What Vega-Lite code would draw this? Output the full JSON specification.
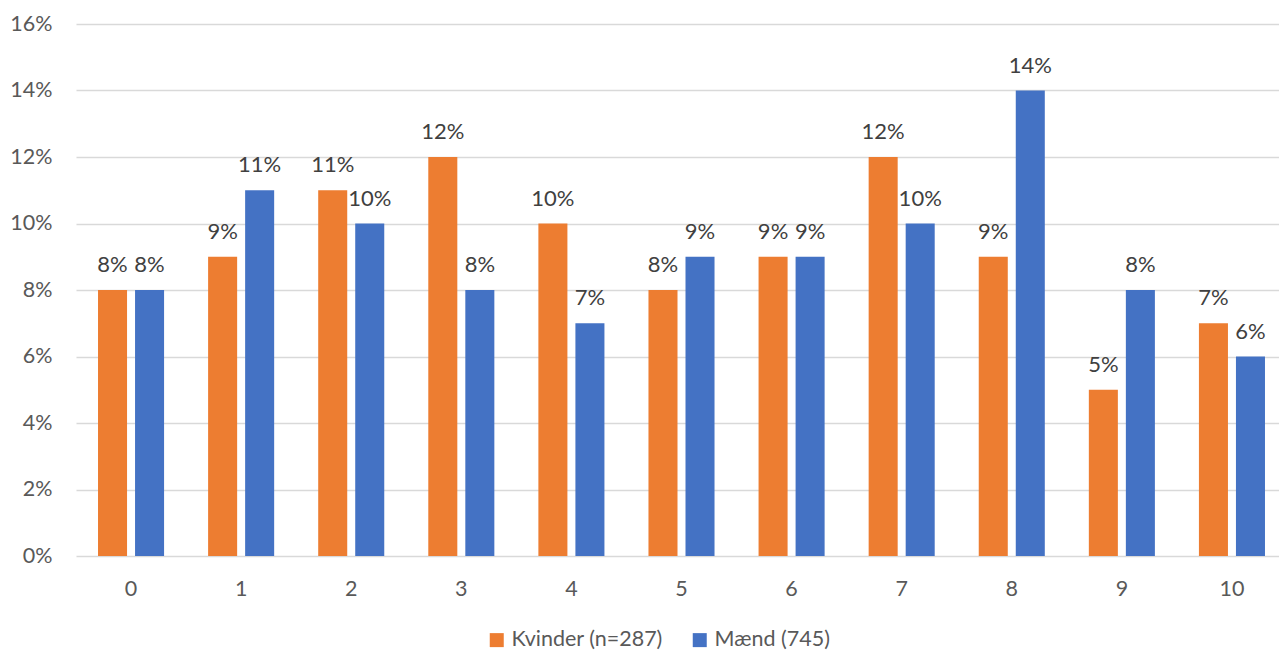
{
  "$schema": "https://vega.github.io/schema/vega-lite/v6.json",
  "autosize": {"type": "none"},
  "padding": {"left": 76, "top": 24, "right": 0, "bottom": 96},
  "width": 1203,
  "height": 532,
  "background": "white",
  "config": {
    "view": {"stroke": null},
    "font": "Lato",
    "axis": {"labelFont": "Lato", "labelFontSize": 21.5, "labelColor": "#595959", "gridColor": "#D9D9D9", "gridWidth": 1.5, "domain": false, "ticks": false, "title": null},
    "legend": {"labelFont": "Lato", "labelFontSize": 21.5, "labelColor": "#595959"}
  },
  "data": {
    "values": [
      {"cat": 0, "series": "Kvinder (n=287)", "value": 0.08},
      {"cat": 0, "series": "Mænd (745)", "value": 0.08},
      {"cat": 1, "series": "Kvinder (n=287)", "value": 0.09},
      {"cat": 1, "series": "Mænd (745)", "value": 0.11},
      {"cat": 2, "series": "Kvinder (n=287)", "value": 0.11},
      {"cat": 2, "series": "Mænd (745)", "value": 0.10},
      {"cat": 3, "series": "Kvinder (n=287)", "value": 0.12},
      {"cat": 3, "series": "Mænd (745)", "value": 0.08},
      {"cat": 4, "series": "Kvinder (n=287)", "value": 0.10},
      {"cat": 4, "series": "Mænd (745)", "value": 0.07},
      {"cat": 5, "series": "Kvinder (n=287)", "value": 0.08},
      {"cat": 5, "series": "Mænd (745)", "value": 0.09},
      {"cat": 6, "series": "Kvinder (n=287)", "value": 0.09},
      {"cat": 6, "series": "Mænd (745)", "value": 0.09},
      {"cat": 7, "series": "Kvinder (n=287)", "value": 0.12},
      {"cat": 7, "series": "Mænd (745)", "value": 0.10},
      {"cat": 8, "series": "Kvinder (n=287)", "value": 0.09},
      {"cat": 8, "series": "Mænd (745)", "value": 0.14},
      {"cat": 9, "series": "Kvinder (n=287)", "value": 0.05},
      {"cat": 9, "series": "Mænd (745)", "value": 0.08},
      {"cat": 10, "series": "Kvinder (n=287)", "value": 0.07},
      {"cat": 10, "series": "Mænd (745)", "value": 0.06}
    ]
  },
  "encoding": {
    "x": {
      "field": "cat", "type": "ordinal",
      "scale": {"range": [0, 1211], "paddingInner": 0.4, "paddingOuter": 0.2},
      "axis": {"labelAngle": 0, "labelBaseline": "alphabetic", "labelPadding": 39, "grid": false}
    },
    "xOffset": {
      "field": "series", "type": "nominal",
      "sort": ["Kvinder (n=287)", "Mænd (745)"],
      "scale": {"paddingInner": 0.216, "paddingOuter": 0}
    },
    "y": {
      "field": "value", "type": "quantitative",
      "scale": {"domain": [0, 0.16], "nice": false},
      "axis": {"format": ".0%", "values": [0, 0.02, 0.04, 0.06, 0.08, 0.1, 0.12, 0.14, 0.16], "labelPadding": 24}
    }
  },
  "layer": [
    {
      "mark": {"type": "bar"},
      "encoding": {
        "color": {
          "field": "series", "type": "nominal",
          "sort": ["Kvinder (n=287)", "Mænd (745)"],
          "scale": {"domain": ["Kvinder (n=287)", "Mænd (745)"], "range": ["#ED7D31", "#4472C4"]},
          "legend": {
            "title": null, "orient": "none", "direction": "horizontal",
            "legendX": 410, "legendY": 605,
            "symbolType": "square", "symbolSize": 196, "symbolStrokeWidth": 0,
            "labelOffset": 4, "columnPadding": 26
          }
        }
      }
    },
    {
      "mark": {"type": "text", "baseline": "alphabetic", "dy": -18, "fontSize": 22, "color": "#404040", "font": "Lato"},
      "encoding": {
        "text": {"field": "value", "type": "quantitative", "format": ".0%"}
      }
    }
  ]
}
